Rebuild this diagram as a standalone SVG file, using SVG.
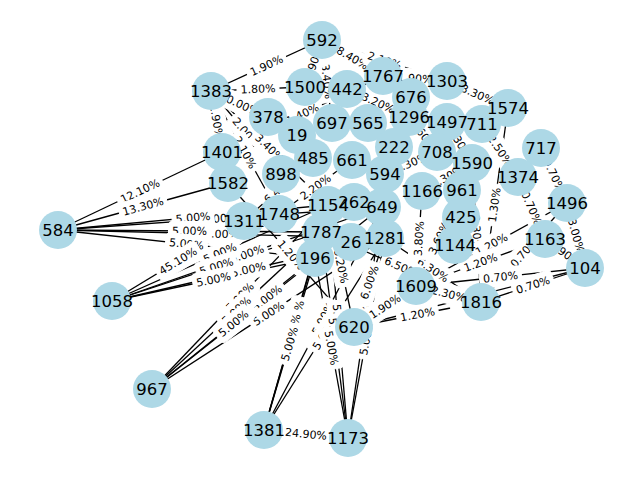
<svg xmlns="http://www.w3.org/2000/svg" width="640" height="480" viewBox="0 0 640 480">
<style>
.e line{stroke:#000;stroke-width:1.3;fill:none}
.lb text{font-family:"DejaVu Sans",sans-serif;font-size:11px;text-anchor:middle;fill:#000}
.n circle{fill:#add8e6}
.nl text{font-family:"DejaVu Sans",sans-serif;font-size:16.5px;text-anchor:middle;fill:#000}
</style>
<defs>
<rect id="b5" x="-21" y="-9.5" width="42" height="19" rx="4" fill="#fff" stroke="#fff"/>
<rect id="b6" x="-24.5" y="-9.5" width="49" height="19" rx="4" fill="#fff" stroke="#fff"/>
</defs>
<rect width="640" height="480" fill="#fff"/>
<g id="edges" class="e">
<line x1="58" y1="230" x2="328" y2="205"/><line x1="58" y1="230" x2="321" y2="232"/><line x1="58" y1="230" x2="315" y2="258"/><line x1="58" y1="230" x2="382" y2="207"/><line x1="58" y1="230" x2="385" y2="238"/>
<line x1="112" y1="301" x2="328" y2="205"/><line x1="112" y1="301" x2="321" y2="232"/><line x1="112" y1="301" x2="315" y2="258"/><line x1="112" y1="301" x2="382" y2="207"/><line x1="112" y1="301" x2="385" y2="238"/>
<line x1="152" y1="389" x2="328" y2="205"/><line x1="152" y1="389" x2="321" y2="232"/><line x1="152" y1="389" x2="315" y2="258"/><line x1="152" y1="389" x2="382" y2="207"/><line x1="152" y1="389" x2="385" y2="238"/>
<line x1="264" y1="430" x2="328" y2="205"/><line x1="264" y1="430" x2="321" y2="232"/><line x1="264" y1="430" x2="315" y2="258"/><line x1="264" y1="430" x2="382" y2="207"/><line x1="264" y1="430" x2="385" y2="238"/>
<line x1="348" y1="438" x2="328" y2="205"/><line x1="348" y1="438" x2="321" y2="232"/><line x1="348" y1="438" x2="315" y2="258"/><line x1="348" y1="438" x2="382" y2="207"/><line x1="348" y1="438" x2="385" y2="238"/>
<line x1="322" y1="40" x2="211" y2="91"/>
<line x1="305" y1="87" x2="211" y2="91"/>
<line x1="322" y1="40" x2="383" y2="76"/>
<line x1="322" y1="40" x2="447" y2="81"/>
<line x1="383" y1="76" x2="447" y2="81"/>
<line x1="447" y1="81" x2="508" y2="108"/>
<line x1="58" y1="230" x2="222" y2="152"/>
<line x1="58" y1="230" x2="228" y2="183"/>
<line x1="112" y1="301" x2="244" y2="221"/>
<line x1="264" y1="430" x2="348" y2="438"/>
<line x1="481" y1="302" x2="585" y2="268"/>
<line x1="567" y1="203" x2="585" y2="268"/>
<line x1="416" y1="286" x2="585" y2="268"/>
<line x1="354" y1="327" x2="585" y2="268"/>
<line x1="545" y1="239" x2="585" y2="268"/>
<line x1="481" y1="302" x2="567" y2="203"/>
<line x1="518" y1="177" x2="545" y2="239"/>
<line x1="541" y1="148" x2="567" y2="203"/>
<line x1="482" y1="124" x2="518" y2="177"/>
<line x1="481" y1="302" x2="508" y2="108"/>
<line x1="416" y1="286" x2="567" y2="203"/>
<line x1="416" y1="286" x2="545" y2="239"/>
<line x1="385" y1="238" x2="481" y2="302"/>
<line x1="321" y1="232" x2="481" y2="302"/>
<line x1="416" y1="286" x2="481" y2="302"/>
<line x1="481" y1="302" x2="354" y2="327"/>
<line x1="354" y1="327" x2="416" y2="286"/>
<line x1="354" y1="327" x2="385" y2="238"/>
<line x1="354" y1="327" x2="328" y2="205"/>
<line x1="268" y1="117" x2="211" y2="91"/>
<line x1="281" y1="174" x2="211" y2="91"/>
<line x1="279" y1="214" x2="211" y2="91"/>
<line x1="328" y1="205" x2="211" y2="91"/>
<line x1="222" y1="152" x2="211" y2="91"/>
<line x1="244" y1="221" x2="313" y2="158"/>
<line x1="279" y1="214" x2="352" y2="160"/>
<line x1="222" y1="152" x2="383" y2="76"/>
<line x1="347" y1="89" x2="409" y2="117"/>
<line x1="332" y1="123" x2="322" y2="40"/>
<line x1="305" y1="87" x2="322" y2="40"/>
<line x1="385" y1="174" x2="437" y2="152"/>
<line x1="422" y1="191" x2="472" y2="163"/>
<line x1="447" y1="122" x2="472" y2="163"/>
<line x1="409" y1="117" x2="437" y2="152"/>
<line x1="416" y1="286" x2="422" y2="191"/>
<line x1="416" y1="286" x2="462" y2="190"/>
<line x1="472" y1="163" x2="481" y2="302"/>
<line x1="228" y1="183" x2="354" y2="327"/>
</g>
<g id="edge-labels" class="lb">
<g transform="translate(220,218.5) rotate(-4.06)"><use href="#b5"/><text y="3.8">5.00%</text></g>
<g transform="translate(221.5,234) rotate(1.4)"><use href="#b5"/><text y="3.8">5.00%</text></g>
<g transform="translate(193,217.5) rotate(-5.29)"><use href="#b5"/><text y="3.8">5.00%</text></g>
<g transform="translate(189.5,231) rotate(0.44)"><use href="#b5"/><text y="3.8">5.00%</text></g>
<g transform="translate(186.5,244) rotate(6.22)"><use href="#b5"/><text y="3.8">5.00%</text></g>
<g transform="translate(247,254) rotate(-19.2)"><use href="#b5"/><text y="3.8">5.00%</text></g>
<g transform="translate(248.5,269.5) rotate(-12.99)"><use href="#b5"/><text y="3.8">5.00%</text></g>
<g transform="translate(220,253) rotate(-23.96)"><use href="#b5"/><text y="3.8">5.00%</text></g>
<g transform="translate(216.5,266.5) rotate(-18.27)"><use href="#b5"/><text y="3.8">5.00%</text></g>
<g transform="translate(213.5,279.5) rotate(-11.96)"><use href="#b5"/><text y="3.8">5.00%</text></g>
<g transform="translate(267,298) rotate(-38.35)"><use href="#b5"/><text y="3.8">5.00%</text></g>
<g transform="translate(268.5,313.5) rotate(-32.94)"><use href="#b5"/><text y="3.8">5.00%</text></g>
<g transform="translate(240,297) rotate(-46.27)"><use href="#b5"/><text y="3.8">5.00%</text></g>
<g transform="translate(236.5,310.5) rotate(-42.89)"><use href="#b5"/><text y="3.8">5.00%</text></g>
<g transform="translate(233.5,323.5) rotate(-38.79)"><use href="#b5"/><text y="3.8">5.00%</text></g>
<g transform="translate(323,318.5) rotate(-62.11)"><use href="#b5"/><text y="3.8">5.00%</text></g>
<g transform="translate(324.5,334) rotate(-57.79)"><use href="#b5"/><text y="3.8">5.00%</text></g>
<g transform="translate(296,317.5) rotate(-74.12)"><use href="#b5"/><text y="3.8">5.00%</text></g>
<g transform="translate(292.5,331) rotate(-73.94)"><use href="#b5"/><text y="3.8">5.00%</text></g>
<g transform="translate(289.5,344) rotate(-73.48)"><use href="#b5"/><text y="3.8">5.00%</text></g>
<g transform="translate(365,322.5) rotate(-81.63)"><use href="#b5"/><text y="3.8">5.00%</text></g>
<g transform="translate(366.5,338) rotate(-79.52)"><use href="#b5"/><text y="3.8">5.00%</text></g>
<g transform="translate(338,321.5) rotate(85.09)"><use href="#b5"/><text y="3.8">5.00%</text></g>
<g transform="translate(334.5,335) rotate(82.53)"><use href="#b5"/><text y="3.8">5.00%</text></g>
<g transform="translate(331.5,348) rotate(79.61)"><use href="#b5"/><text y="3.8">5.00%</text></g>
<g transform="translate(266.5,65.5) rotate(-24.68)"><use href="#b5"/><text y="3.8">1.90%</text></g>
<g transform="translate(258,89) rotate(-2.44)"><use href="#b5"/><text y="3.8">1.80%</text></g>
<g transform="translate(352.5,58) rotate(30.55)"><use href="#b5"/><text y="3.8">8.40%</text></g>
<g transform="translate(384.5,60.5) rotate(18.16)"><use href="#b5"/><text y="3.8">2.10%</text></g>
<g transform="translate(415,78.5) rotate(4.47)"><use href="#b5"/><text y="3.8">1.90%</text></g>
<g transform="translate(477.5,94.5) rotate(23.87)"><use href="#b5"/><text y="3.8">3.30%</text></g>
<g transform="translate(140,191) rotate(-25.44)"><use href="#b6"/><text y="3.8">12.10%</text></g>
<g transform="translate(143,206.5) rotate(-15.45)"><use href="#b6"/><text y="3.8">13.30%</text></g>
<g transform="translate(178,261) rotate(-31.22)"><use href="#b6"/><text y="3.8">45.10%</text></g>
<g transform="translate(306,434) rotate(5.44)"><use href="#b6"/><text y="3.8">24.90%</text></g>
<g transform="translate(469.5,297.5) rotate(-14.33)"><use href="#b5"/><text y="3.8">0.70%</text></g>
<g transform="translate(533,285) rotate(-18.1)"><use href="#b5"/><text y="3.8">0.70%</text></g>
<g transform="translate(576,235.5) rotate(74.52)"><use href="#b5"/><text y="3.8">3.00%</text></g>
<g transform="translate(565,253.5) rotate(35.94)"><use href="#b5"/><text y="3.8">1.90%</text></g>
<g transform="translate(531.5,208) rotate(66.47)"><use href="#b5"/><text y="3.8">0.70%</text></g>
<g transform="translate(554,175.5) rotate(64.7)"><use href="#b5"/><text y="3.8">0.70%</text></g>
<g transform="translate(500,150.5) rotate(55.81)"><use href="#b5"/><text y="3.8">2.50%</text></g>
<g transform="translate(494.5,205) rotate(-82.08)"><use href="#b5"/><text y="3.8">1.30%</text></g>
<g transform="translate(476.5,232.5) rotate(86.3)"><use href="#b5"/><text y="3.8">2.30%</text></g>
<g transform="translate(491.5,244.5) rotate(-28.79)"><use href="#b5"/><text y="3.8">1.20%</text></g>
<g transform="translate(524,252.5) rotate(-49.02)"><use href="#b5"/><text y="3.8">0.70%</text></g>
<g transform="translate(480.5,262.5) rotate(-20.02)"><use href="#b5"/><text y="3.8">1.20%</text></g>
<g transform="translate(500.5,277) rotate(-6.08)"><use href="#b5"/><text y="3.8">0.70%</text></g>
<g transform="translate(433,270) rotate(33.69)"><use href="#b5"/><text y="3.8">6.30%</text></g>
<g transform="translate(401,267) rotate(23.63)"><use href="#b5"/><text y="3.8">6.50%</text></g>
<g transform="translate(448.5,294) rotate(13.83)"><use href="#b5"/><text y="3.8">2.30%</text></g>
<g transform="translate(417.5,314.5) rotate(-11.14)"><use href="#b5"/><text y="3.8">1.20%</text></g>
<g transform="translate(385,306.5) rotate(-33.48)"><use href="#b5"/><text y="3.8">1.90%</text></g>
<g transform="translate(369.5,282.5) rotate(-70.8)"><use href="#b5"/><text y="3.8">6.00%</text></g>
<g transform="translate(341,266) rotate(78)"><use href="#b5"/><text y="3.8">6.20%</text></g>
<g transform="translate(246,132.5) rotate(49.86)"><use href="#b5"/><text y="3.8">2.00%</text></g>
<g transform="translate(239.5,104) rotate(24.52)"><use href="#b6"/><text y="3.8">10.00%</text></g>
<g transform="translate(245,152.5) rotate(61.06)"><use href="#b5"/><text y="3.8">2.10%</text></g>
<g transform="translate(269.5,148) rotate(44.26)"><use href="#b5"/><text y="3.8">3.40%</text></g>
<g transform="translate(216.5,121.5) rotate(79.78)"><use href="#b5"/><text y="3.8">1.90%</text></g>
<g transform="translate(278.5,189.5) rotate(-42.4)"><use href="#b5"/><text y="3.8">6.40%</text></g>
<g transform="translate(315.5,187) rotate(-36.49)"><use href="#b5"/><text y="3.8">2.20%</text></g>
<g transform="translate(302.5,114) rotate(-25.27)"><use href="#b5"/><text y="3.8">1.40%</text></g>
<g transform="translate(378,103) rotate(24.3)"><use href="#b5"/><text y="3.8">3.20%</text></g>
<g transform="translate(327,81.5) rotate(83.13)"><use href="#b5"/><text y="3.8">3.40%</text></g>
<g transform="translate(313.5,63.5) rotate(-70.11)"><use href="#b5"/><text y="3.8">1.90%</text></g>
<g transform="translate(411,163) rotate(-22.93)"><use href="#b5"/><text y="3.8">1.30%</text></g>
<g transform="translate(447,177) rotate(-29.25)"><use href="#b5"/><text y="3.8">4.30%</text></g>
<g transform="translate(459.5,142.5) rotate(58.63)"><use href="#b5"/><text y="3.8">1.30%</text></g>
<g transform="translate(423,134.5) rotate(51.34)"><use href="#b5"/><text y="3.8">1.60%</text></g>
<g transform="translate(419,238.5) rotate(-86.39)"><use href="#b5"/><text y="3.8">3.80%</text></g>
<g transform="translate(439,238) rotate(-64.39)"><use href="#b5"/><text y="3.8">3.60%</text></g>
<g transform="translate(291,255) rotate(48.81)"><use href="#b5"/><text y="3.8">1.20%</text></g>
</g>
<g id="nodes" class="n">
<g id="node-592"><circle cx="322" cy="40" r="19"/></g>
<g id="node-1383"><circle cx="211" cy="91" r="19"/></g>
<g id="node-1500"><circle cx="305" cy="87" r="19"/></g>
<g id="node-442"><circle cx="347" cy="89" r="19"/></g>
<g id="node-1767"><circle cx="383" cy="76" r="19"/></g>
<g id="node-676"><circle cx="411" cy="97" r="19"/></g>
<g id="node-1303"><circle cx="447" cy="81" r="19"/></g>
<g id="node-1296"><circle cx="409" cy="117" r="19"/></g>
<g id="node-1497"><circle cx="447" cy="122" r="19"/></g>
<g id="node-711"><circle cx="482" cy="124" r="19"/></g>
<g id="node-1574"><circle cx="508" cy="108" r="19"/></g>
<g id="node-378"><circle cx="268" cy="117" r="19"/></g>
<g id="node-19"><circle cx="297" cy="135" r="19"/></g>
<g id="node-697"><circle cx="332" cy="123" r="19"/></g>
<g id="node-565"><circle cx="368" cy="123" r="19"/></g>
<g id="node-222"><circle cx="394" cy="147" r="19"/></g>
<g id="node-708"><circle cx="437" cy="152" r="19"/></g>
<g id="node-1590"><circle cx="472" cy="163" r="19"/></g>
<g id="node-717"><circle cx="541" cy="148" r="19"/></g>
<g id="node-1374"><circle cx="518" cy="177" r="19"/></g>
<g id="node-1401"><circle cx="222" cy="152" r="19"/></g>
<g id="node-485"><circle cx="313" cy="158" r="19"/></g>
<g id="node-661"><circle cx="352" cy="160" r="19"/></g>
<g id="node-594"><circle cx="385" cy="174" r="19"/></g>
<g id="node-898"><circle cx="281" cy="174" r="19"/></g>
<g id="node-1582"><circle cx="228" cy="183" r="19"/></g>
<g id="node-1166"><circle cx="422" cy="191" r="19"/></g>
<g id="node-961"><circle cx="462" cy="190" r="19"/></g>
<g id="node-1496"><circle cx="567" cy="203" r="19"/></g>
<g id="node-584"><circle cx="58" cy="230" r="19"/></g>
<g id="node-1311"><circle cx="244" cy="221" r="19"/></g>
<g id="node-1748"><circle cx="279" cy="214" r="19"/></g>
<g id="node-1154"><circle cx="328" cy="205" r="19"/></g>
<g id="node-262"><circle cx="354" cy="202" r="19"/></g>
<g id="node-649"><circle cx="382" cy="207" r="19"/></g>
<g id="node-425"><circle cx="461" cy="217" r="19"/></g>
<g id="node-1163"><circle cx="545" cy="239" r="19"/></g>
<g id="node-1787"><circle cx="321" cy="232" r="19"/></g>
<g id="node-26"><circle cx="351" cy="242" r="19"/></g>
<g id="node-1281"><circle cx="385" cy="238" r="19"/></g>
<g id="node-1144"><circle cx="455" cy="245" r="19"/></g>
<g id="node-196"><circle cx="315" cy="258" r="19"/></g>
<g id="node-104"><circle cx="585" cy="268" r="19"/></g>
<g id="node-1058"><circle cx="112" cy="301" r="19"/></g>
<g id="node-1609"><circle cx="416" cy="286" r="19"/></g>
<g id="node-1816"><circle cx="481" cy="302" r="19"/></g>
<g id="node-620"><circle cx="354" cy="327" r="19"/></g>
<g id="node-967"><circle cx="152" cy="389" r="19"/></g>
<g id="node-1381"><circle cx="264" cy="430" r="19"/></g>
<g id="node-1173"><circle cx="348" cy="438" r="19"/></g>
</g>
<g id="node-labels" class="nl">
<text x="322" y="46">592</text>
<text x="211" y="97">1383</text>
<text x="305" y="93">1500</text>
<text x="347" y="95">442</text>
<text x="383" y="82">1767</text>
<text x="411" y="103">676</text>
<text x="447" y="87">1303</text>
<text x="409" y="123">1296</text>
<text x="447" y="128">1497</text>
<text x="482" y="130">711</text>
<text x="508" y="114">1574</text>
<text x="268" y="123">378</text>
<text x="297" y="141">19</text>
<text x="332" y="129">697</text>
<text x="368" y="129">565</text>
<text x="394" y="153">222</text>
<text x="437" y="158">708</text>
<text x="472" y="169">1590</text>
<text x="541" y="154">717</text>
<text x="518" y="183">1374</text>
<text x="222" y="158">1401</text>
<text x="313" y="164">485</text>
<text x="352" y="166">661</text>
<text x="385" y="180">594</text>
<text x="281" y="180">898</text>
<text x="228" y="189">1582</text>
<text x="422" y="197">1166</text>
<text x="462" y="196">961</text>
<text x="567" y="209">1496</text>
<text x="58" y="236">584</text>
<text x="244" y="227">1311</text>
<text x="279" y="220">1748</text>
<text x="328" y="211">1154</text>
<text x="354" y="208">262</text>
<text x="382" y="213">649</text>
<text x="461" y="223">425</text>
<text x="545" y="245">1163</text>
<text x="321" y="238">1787</text>
<text x="351" y="248">26</text>
<text x="385" y="244">1281</text>
<text x="455" y="251">1144</text>
<text x="315" y="264">196</text>
<text x="585" y="274">104</text>
<text x="112" y="307">1058</text>
<text x="416" y="292">1609</text>
<text x="481" y="308">1816</text>
<text x="354" y="333">620</text>
<text x="152" y="395">967</text>
<text x="264" y="436">1381</text>
<text x="348" y="444">1173</text>
</g>
</svg>
